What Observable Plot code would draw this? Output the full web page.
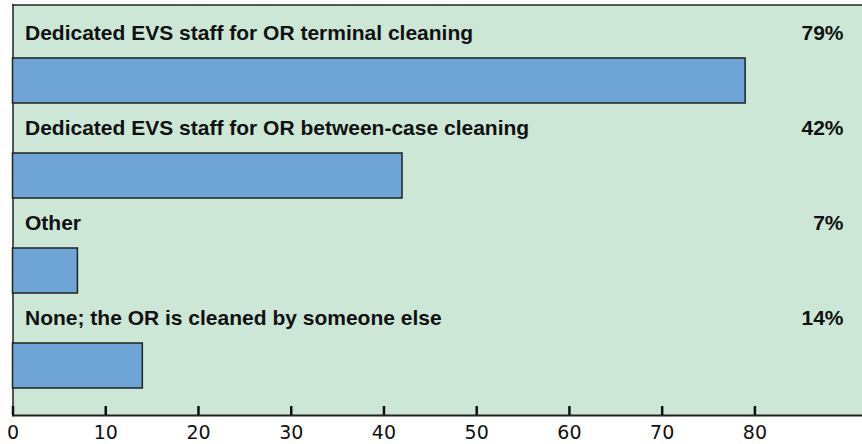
<!DOCTYPE html>
<html>
<head>
<meta charset="utf-8">
<script src="https://cdn.jsdelivr.net/npm/d3@7"></script>
<script src="https://cdn.jsdelivr.net/npm/@observablehq/plot@0.6"></script>
<style>
  html, body { margin: 0; padding: 0; background: #fff; overflow: hidden; }
  svg { display: block; }
</style>
</head>
<body>
<div id="chart"></div>
<script>
const categories = [
  "Dedicated EVS staff for OR terminal cleaning",
  "Dedicated EVS staff for OR between-case cleaning",
  "Other",
  "None; the OR is cleaned by someone else"
];
const values = [79, 42, 7, 14];
const xTicks = [0, 10, 20, 30, 40, 50, 60, 70, 80];

const data = categories.map((c, i) => ({category: c, value: values[i]}));

const chart = Plot.plot({
  width: 862,
  height: 444,
  marginLeft: 12.5,
  marginRight: 0,
  marginTop: 4.5,
  marginBottom: 29,
  style: {background: "#fff", fontFamily: "Liberation Sans, Arial, sans-serif", color: "#111"},
  x: {domain: [0, 91.6]},
  y: {domain: categories, range: [6.5, 390], padding: 0, axis: null},
  marks: [
    Plot.frame({fill: "#cce7d6", stroke: "none"}),
    Plot.frame({anchor: "top", stroke: "#222", strokeWidth: 1.5}),
    Plot.frame({anchor: "left", stroke: "#222", strokeWidth: 1.5}),
    Plot.frame({anchor: "bottom", stroke: "#222", strokeWidth: 2}),
    Plot.barX(data, {
      x: "value", y: "category",
      fill: "#6fa4d6", stroke: "#222", strokeWidth: 1.5,
      insetTop: 50, insetBottom: 0
    }),
    Plot.text(data, {
      x: 0, y: "category", text: "category",
      textAnchor: "start", lineAnchor: "bottom", dx: 12, dy: -16,
      fontWeight: "bold", fontSize: 21, fill: "#111"
    }),
    Plot.text(data, {
      y: "category", text: d => d.value + "%",
      frameAnchor: "right", textAnchor: "end", lineAnchor: "bottom", dx: -19, dy: -16,
      fontWeight: "bold", fontSize: 21, fill: "#111"
    }),
    Plot.axisX({ticks: xTicks, tickSize: -9, fill: "none", stroke: "#111", strokeWidth: 2.5, label: null}),
    Plot.axisX({ticks: xTicks, tickSize: 0, tickPadding: 9.5, label: null, fontSize: 19, fontFamily: "DejaVu Sans", fill: "#111"})
  ]
});
document.getElementById("chart").appendChild(chart);
</script>
</body>
</html>
